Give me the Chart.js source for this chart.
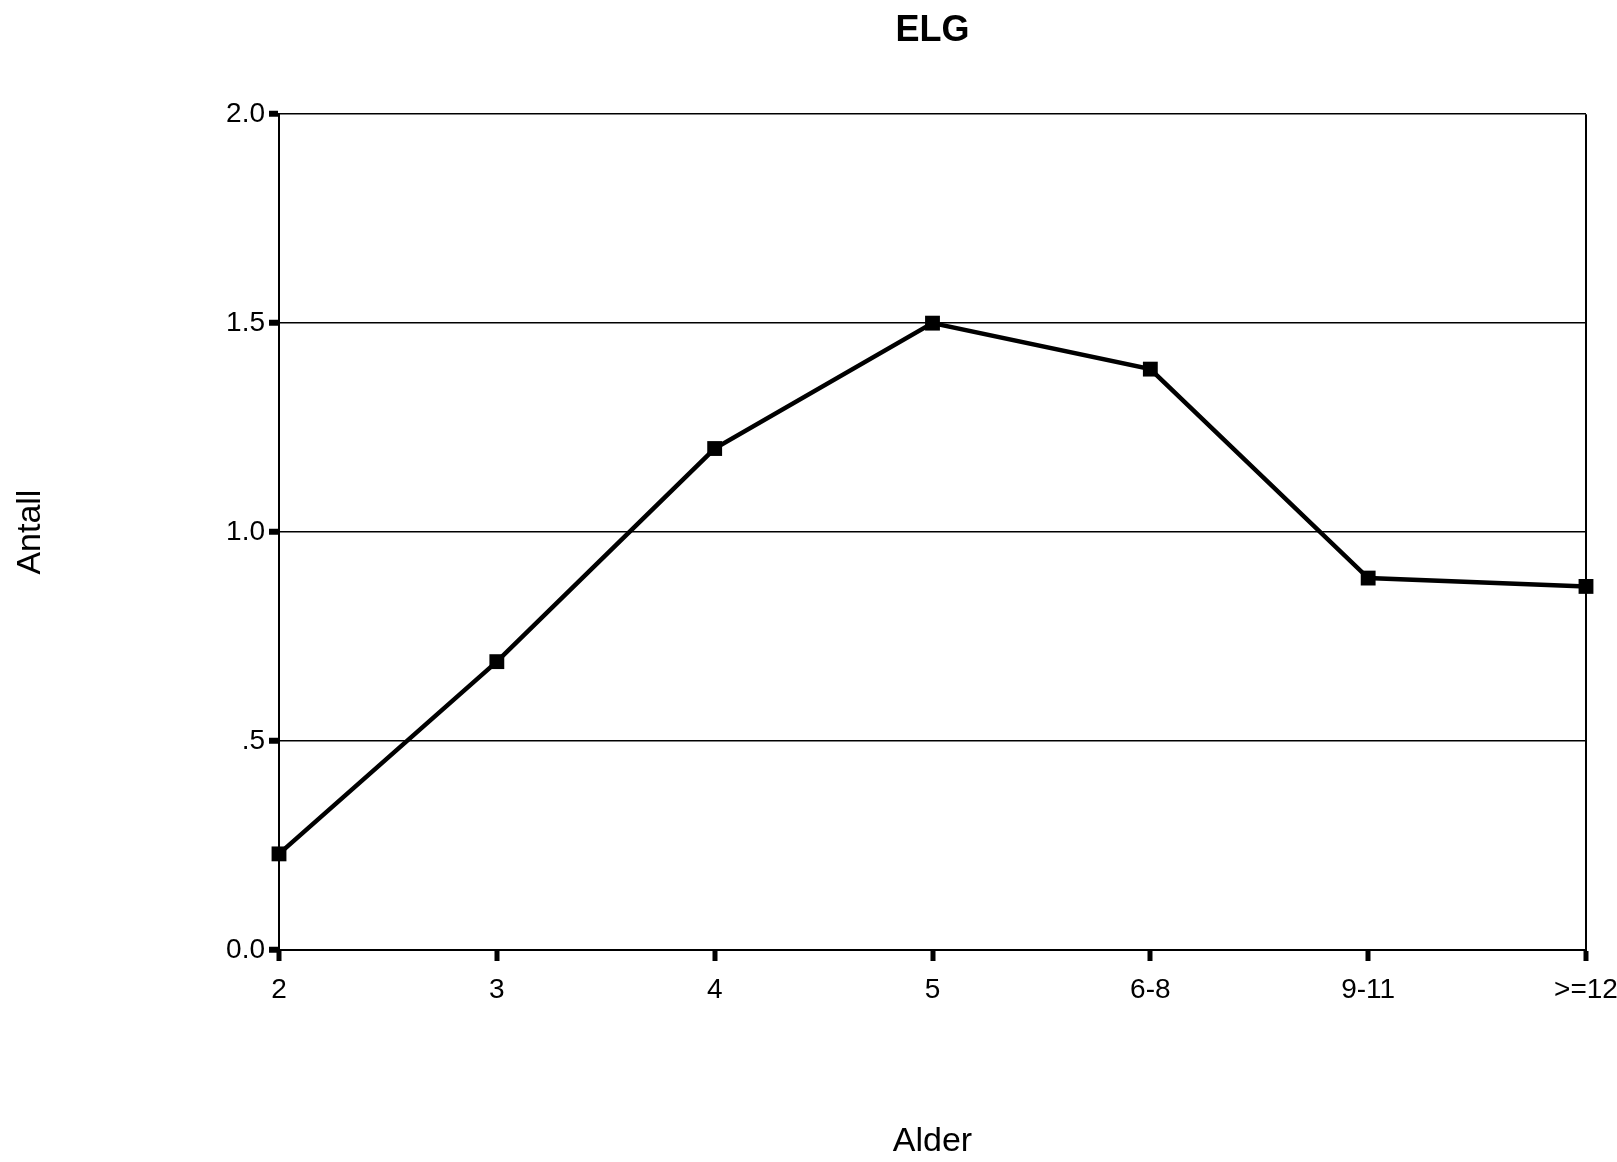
<!DOCTYPE html>
<html>
<head>
<meta charset="utf-8">
<script src="https://cdn.jsdelivr.net/npm/chart.js@4/dist/chart.umd.min.js"></script>
<style>
  html, body { margin: 0; padding: 0; background: #fff; }
  #wrap { width: 1617px; height: 1162px; position: relative; }
</style>
</head>
<body>
<div id="wrap"><canvas id="c" width="1617" height="1162"></canvas></div>
<script>
const chartTitle = 'ELG';
const xAxisTitle = 'Alder';
const yAxisTitle = 'Antall';
const categories = ['2', '3', '4', '5', '6-8', '9-11', '>=12'];
const values = [0.23, 0.69, 1.20, 1.50, 1.39, 0.89, 0.87];
const yTickValues = [0, 0.5, 1.0, 1.5, 2.0];
const yTickLabels = ['0.0', '.5', '1.0', '1.5', '2.0'];

const FONT = "'Liberation Sans', Arial, Helvetica, sans-serif";

new Chart(document.getElementById('c'), {
  type: 'line',
  data: {
    labels: categories,
    datasets: [{
      data: values,
      borderColor: '#000',
      backgroundColor: '#000',
      borderWidth: 4.5,
      tension: 0,
      pointStyle: 'rect',
      pointRadius: 10.5,
      pointBackgroundColor: '#000',
      pointBorderColor: '#000',
      pointBorderWidth: 0,
      clip: false
    }]
  },
  options: {
    responsive: false,
    animation: false,
    devicePixelRatio: 1,
    layout: { padding: { left: 0, right: 31, top: 0, bottom: 0 } },
    plugins: {
      legend: { display: false },
      tooltip: { enabled: false },
      title: {
        display: true,
        fullSize: false,
        text: chartTitle,
        color: '#000',
        font: { family: FONT, size: 36, weight: 'bold' },
        padding: { top: 9, bottom: 62 }
      }
    },
    scales: {
      x: {
        type: 'category',
        offset: false,
        afterFit: s => { s.height = 212; s.paddingLeft = 0; s.paddingRight = 0; },
        border: { display: true, color: '#000', width: 2 },
        grid: {
          display: true,
          drawOnChartArea: true,
          color: ctx => ctx.index === categories.length - 1 ? '#000' : 'rgba(0,0,0,0)',
          lineWidth: 2,
          tickColor: '#000',
          tickWidth: 5,
          tickLength: 11
        },
        ticks: {
          color: '#000',
          font: { family: FONT, size: 28 },
          padding: 12,
          maxRotation: 0,
          autoSkip: false
        },
        title: {
          display: true,
          text: xAxisTitle,
          color: '#000',
          font: { family: FONT, size: 34 },
          padding: { top: 0, bottom: 0 }
        }
      },
      y: {
        min: 0,
        max: 2,
        afterFit: s => { s.width = 279; },
        afterBuildTicks: s => { s.ticks = yTickValues.map(v => ({ value: v })); },
        border: { display: true, color: '#000', width: 2 },
        grid: {
          color: '#000',
          lineWidth: 1.5,
          tickColor: '#000',
          tickWidth: 6,
          tickLength: 10
        },
        ticks: {
          color: '#000',
          font: { family: FONT, size: 28 },
          padding: 4,
          callback: (v) => {
            const i = yTickValues.indexOf(v);
            return i >= 0 ? yTickLabels[i] : '';
          }
        },
        title: {
          display: true,
          text: yAxisTitle,
          color: '#000',
          font: { family: FONT, size: 34 },
          padding: { top: 10, bottom: 0 }
        }
      }
    }
  }
});
</script>
</body>
</html>
